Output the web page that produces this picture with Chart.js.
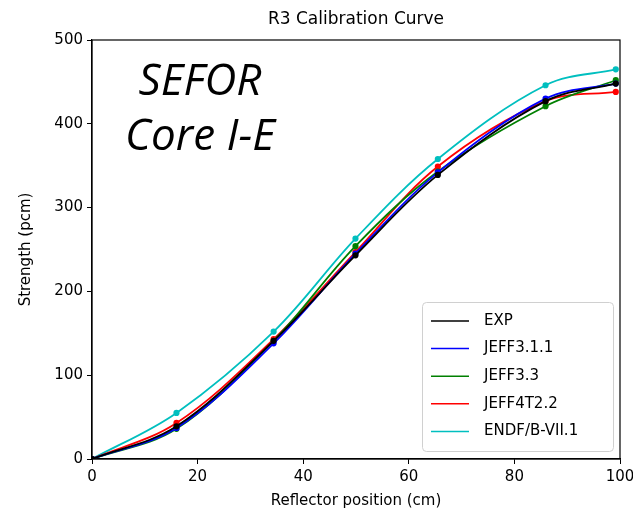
<!DOCTYPE html>
<html>
<head>
<meta charset="utf-8">
<script src="https://cdn.jsdelivr.net/npm/chart.js@4"></script>
<style>
  html, body { margin: 0; padding: 0; background: #fff; }
  #wrap { width: 633px; height: 518px; }
</style>
</head>
<body>
<div id="wrap"><canvas id="myChart" width="633" height="518"></canvas></div>
<script>
// reflector positions (cm)
const positions = [0, 16, 34.4, 49.9, 65.5, 85.9, 99.2];

// strength (pcm) per library
const expValues = [0, 39, 141, 243, 339, 427, 448];
const jeff311Values = [0, 37, 138, 245, 342, 430, 448];
const jeff33Values = [0, 36, 141, 254, 343, 421, 452];
const jeff4t22Values = [0, 43, 143, 247, 349, 427, 438];
const endfValues = [0, 55, 152, 263, 358, 446, 465];

const xTicks = [0, 20, 40, 60, 80, 100];
const yTicks = [0, 100, 200, 300, 400, 500];

const series = [
    { label: 'EXP', values: expValues, color: '#000000' },
    { label: 'JEFF3.1.1', values: jeff311Values, color: '#0000ff' },
    { label: 'JEFF3.3', values: jeff33Values, color: '#008000' },
    { label: 'JEFF4T2.2', values: jeff4t22Values, color: '#ff0000' },
    { label: 'ENDF/B-VII.1', values: endfValues, color: '#00bfbf' }
];

const font = 'DejaVu Sans';

// title, frame, core label and legend box
const decorations = {
    id: 'decorations',
    afterDraw(chart) {
        const ctx = chart.ctx;
        const a = chart.chartArea;
        ctx.save();

        ctx.fillStyle = '#000';
        ctx.font = '17px "' + font + '"';
        ctx.textAlign = 'center';
        ctx.textBaseline = 'middle';
        ctx.fillText('R3 Calibration Curve', (a.left + a.right) / 2, 20);

        ctx.font = 'italic 44px "Open Sans"';
        ctx.textBaseline = 'alphabetic';
        ctx.fillText('SEFOR', 200, 95);
        ctx.fillText('Core I-E', 200, 150);

        ctx.strokeStyle = '#000';
        ctx.lineWidth = 1.2;
        ctx.strokeRect(a.left, a.top, a.right - a.left, a.bottom - a.top);

        // legend
        const lx = 422, ly = 302, lw = 191, lh = 149;
        ctx.fillStyle = 'rgba(255,255,255,0.85)';
        ctx.strokeStyle = '#d0d0d0';
        ctx.lineWidth = 1;
        ctx.beginPath();
        ctx.roundRect(lx + 0.5, ly + 0.5, lw, lh, 4);
        ctx.fill();
        ctx.stroke();

        ctx.font = '15px "' + font + '"';
        ctx.textAlign = 'left';
        ctx.textBaseline = 'middle';
        series.forEach((s, i) => {
            const y = ly + 19 + i * 27.6;
            ctx.strokeStyle = s.color;
            ctx.lineWidth = 1.5;
            ctx.beginPath();
            ctx.moveTo(431, y);
            ctx.lineTo(469, y);
            ctx.stroke();
            ctx.fillStyle = '#000';
            ctx.fillText(s.label, 484, y);
        });
        ctx.restore();
    }
};

new Chart(document.getElementById('myChart').getContext('2d'), {
    type: 'line',
    data: {
        datasets: series.map(s => ({
            label: s.label,
            data: positions.map((x, i) => ({ x: x, y: s.values[i] })),
            borderColor: s.color,
            backgroundColor: s.color,
            borderWidth: 1.8,
            pointRadius: 2.2,
            pointHoverRadius: 2.2,
            tension: 0.35,
            fill: false
        }))
    },
    options: {
        responsive: false,
        animation: false,
        events: [],
        layout: { padding: { top: 40, right: 13, left: 17, bottom: 8 } },
        plugins: {
            legend: { display: false },
            title: { display: false },
            tooltip: { enabled: false }
        },
        scales: {
            x: {
                type: 'linear',
                min: 0,
                max: 100,
                afterBuildTicks: scale => { scale.ticks = xTicks.map(v => ({ value: v })); },
                afterFit: scale => {
                    scale.height = 51;
                    scale.paddingLeft = 0;
                    scale.paddingRight = 0;
                },
                grid: { drawOnChartArea: false, tickLength: 5, color: '#000' },
                border: { color: '#000', width: 1.2 },
                ticks: { color: '#000', font: { family: font, size: 15 }, padding: 4, maxRotation: 0 },
                title: {
                    display: true,
                    text: 'Reflector position (cm)',
                    color: '#000',
                    font: { family: font, size: 15 },
                    padding: { top: 2, bottom: 0 }
                }
            },
            y: {
                type: 'linear',
                min: 0,
                max: 500,
                afterBuildTicks: scale => { scale.ticks = yTicks.map(v => ({ value: v })); },
                afterFit: scale => {
                    scale.width = 75;
                    scale.paddingTop = 0;
                    scale.paddingBottom = 0;
                },
                grid: { drawOnChartArea: false, tickLength: 5, color: '#000' },
                border: { color: '#000', width: 1.2 },
                ticks: { color: '#000', font: { family: font, size: 15 }, padding: 4 },
                title: {
                    display: true,
                    text: 'Strength (pcm)',
                    color: '#000',
                    font: { family: font, size: 15 },
                    padding: { top: 0, bottom: 6 }
                }
            }
        }
    },
    plugins: [decorations]
});
</script>
</body>
</html>
